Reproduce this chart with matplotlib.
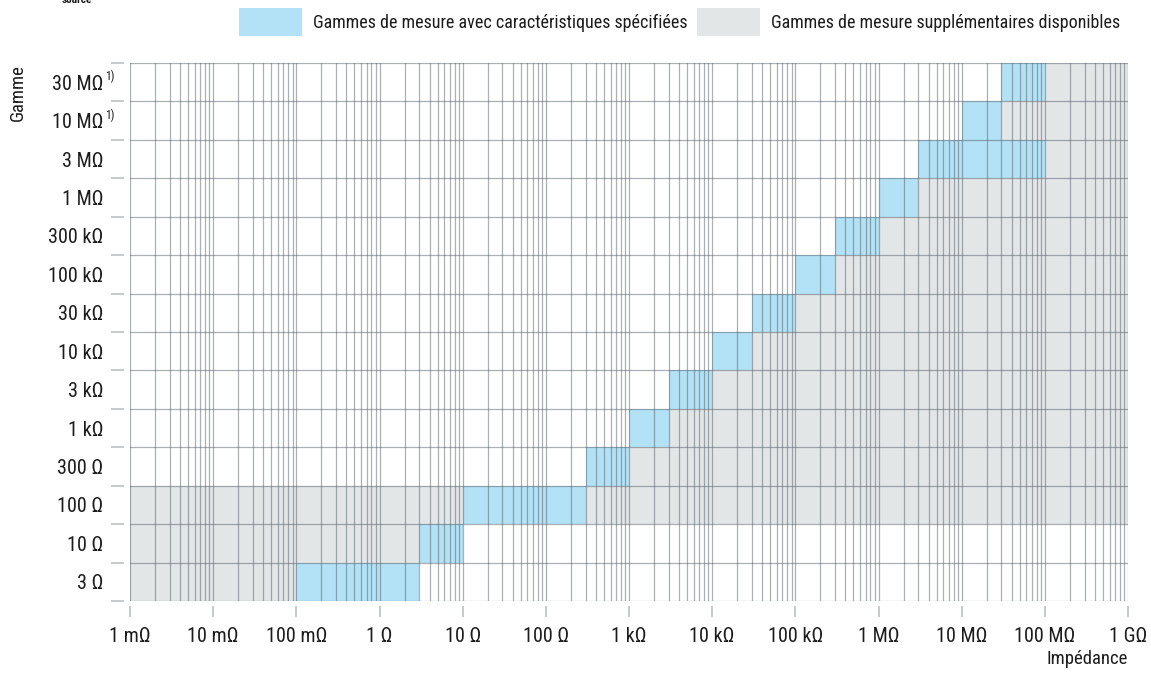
import numpy as np
import matplotlib.pyplot as plt
from matplotlib.ticker import FixedLocator, LogLocator, NullFormatter, FixedFormatter
from matplotlib.patches import Patch

# rows of the chart, bottom to top
ranges = ['3 Ω', '10 Ω', '100 Ω', '300 Ω', '1 kΩ', '3 kΩ', '10 kΩ', '30 kΩ',
          '100 kΩ', '300 kΩ', '1 MΩ', '3 MΩ', '10 MΩ', '30 MΩ']
footnote_rows = [12, 13]

# specified ranges (blue), one per row
spec_lo = [0.1, 3, 10, 300, 1e3, 3e3, 1e4, 3e4, 1e5, 3e5, 1e6, 3e6, 1e7, 3e7]
spec_hi = [3, 10, 300, 1e3, 3e3, 1e4, 3e4, 1e5, 3e5, 1e6, 3e6, 1e8, 3e7, 1e8]

# additional ranges (grey)
extra_rows = [0, 1, 2, 2, 3, 4, 5, 6, 7, 8, 9, 10, 11, 12, 13]
extra_lo = [1e-3, 1e-3, 1e-3, 300, 1e3, 3e3, 1e4, 3e4, 1e5, 3e5, 1e6, 3e6, 1e8, 3e7, 1e8]
extra_hi = [0.1, 3, 10, 1e9, 1e9, 1e9, 1e9, 1e9, 1e9, 1e9, 1e9, 1e9, 1e9, 1e9, 1e9]

x_ticks = [1e-3, 1e-2, 1e-1, 1, 10, 100, 1e3, 1e4, 1e5, 1e6, 1e7, 1e8, 1e9]
x_labels = ['1 mΩ', '10 mΩ', '100 mΩ', '1 Ω', '10 Ω', '100 Ω', '1 kΩ', '10 kΩ',
            '100 kΩ', '1 MΩ', '10 MΩ', '100 MΩ', '1 GΩ']

blue = '#b3e1f5'
grey = '#e3e6e7'
ink = '#1c1c1c'
tickc = '#b8bcc0'

plt.rcParams['font.family'] = ['Roboto Condensed', 'Archivo Narrow', 'DejaVu Sans']
plt.rcParams['font.size'] = 14.5
plt.rcParams['text.color'] = ink

fig = plt.figure(figsize=(11.51, 6.75), dpi=100)
ax = fig.add_axes([130/1151, 74/675, 998/1151, 538/675])

ax.barh(np.arange(len(ranges)), np.array(spec_hi) - np.array(spec_lo), left=spec_lo,
        height=1, color=blue, zorder=1)
ax.barh(extra_rows, np.array(extra_hi) - np.array(extra_lo), left=extra_lo,
        height=1, color=grey, zorder=1)

ax.set_xscale('log')
ax.set_xlim(1e-3, 1e9)
ax.set_ylim(-0.5, len(ranges) - 0.5)

ax.xaxis.set_major_locator(FixedLocator(x_ticks))
ax.xaxis.set_major_formatter(FixedFormatter(x_labels))
ax.xaxis.set_minor_locator(LogLocator(base=10, subs=np.arange(2, 10), numticks=200))
ax.xaxis.set_minor_formatter(NullFormatter())

ax.yaxis.set_major_locator(FixedLocator(np.arange(-0.5, len(ranges))))
ax.yaxis.set_major_formatter(NullFormatter())
ax.yaxis.set_minor_locator(FixedLocator(np.arange(len(ranges))))
ax.yaxis.set_minor_formatter(FixedFormatter(ranges))

ax.set_axisbelow(False)
ax.grid(which='both', axis='x', color='#505a64', alpha=0.48, lw=0.9)
ax.grid(which='major', axis='y', color='#505a64', alpha=0.48, lw=0.9)

for s in ax.spines.values():
    s.set_visible(False)
ax.spines['left'].set_position(('outward', 4.3))
ax.spines['bottom'].set_position(('outward', 3.6))

ax.tick_params(axis='x', which='major', length=8, width=1.1, color=tickc,
               pad=7, labelcolor=ink)
ax.tick_params(axis='x', which='minor', length=0)
ax.tick_params(axis='y', which='major', length=9.4, width=1.1, color=tickc)
ax.tick_params(axis='y', which='minor', length=0, pad=15, labelcolor=ink)

for r in footnote_rows:
    ax.annotate('1)', xy=(0, r), xycoords=('axes fraction', 'data'),
                xytext=(-18, 4), textcoords='offset points',
                ha='left', va='center', fontsize=8.5)

ax.annotate('Impédance', xy=(1, 0), xycoords='axes fraction',
            xytext=(0, -35), textcoords='offset points', ha='right', va='top',
            fontsize=13.5)
fig.text(18/1151, 1 - 64/675, 'Gamme', rotation=90, ha='center', va='top',
         fontsize=13.5)
fig.text(62/1151, 1.0, 'source', ha='left', va='center', fontsize=8, weight='bold')

fig.legend(handles=[Patch(fc=blue, ec='none'), Patch(fc=grey, ec='none')],
           labels=['Gammes de mesure avec caractéristiques spécifiées',
                   'Gammes de mesure supplémentaires disponibles'],
           loc='upper left', bbox_to_anchor=(239/1151, 1 - 8/675), ncol=2,
           frameon=False, borderpad=0, borderaxespad=0, fontsize=13.0,
           handlelength=3.5, handleheight=2.0, handletextpad=0.62,
           columnspacing=0.5)

fig.savefig('out.png', dpi=100)
